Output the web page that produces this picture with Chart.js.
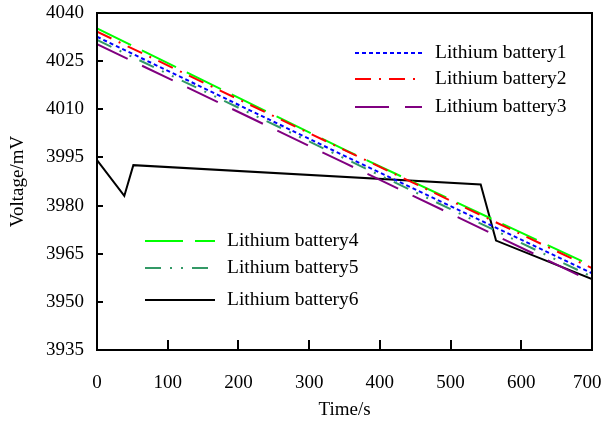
<!DOCTYPE html>
<html>
<head>
<meta charset="utf-8">
<script src="https://cdn.jsdelivr.net/npm/chart.js@4.4.0/dist/chart.umd.min.js"></script>
<style>
    body { margin: 0; background: #fff; }
    canvas { display: block; }
</style>
</head>
<body>
<canvas id="chart" width="604" height="424"></canvas>
<script>
// Time (s) of the points
const timeLinear = [0, 350, 700];
const battery1 = [4032.6, 3995.5, 3958.9];
const battery2 = [4034.2, 3997.3, 3960.5];
const battery3 = [4030.3, 3993.3, 3956.3];
const battery4 = [4035.2, 3997.4, 3961.2];
const battery5 = [4031.6, 3994.7, 3957.8];

const time6 = [0, 38.6, 51.4, 542.6, 564.3, 700];
const battery6 = [3994.2, 3983.0, 3992.6, 3986.6, 3969.1, 3957.1];

const xTicks = [0, 100, 200, 300, 400, 500, 600, 700];
const yTicks = [3935, 3950, 3965, 3980, 3995, 4010, 4025, 4040];

const FONT = "'Liberation Serif', 'Times New Roman', serif";

function points(xs, ys) {
    return xs.map((x, i) => ({ x: x, y: ys[i] }));
}

const datasets = [
    { label: 'Lithium battery1', data: points(timeLinear, battery1), borderColor: '#0000ff', borderDash: [4, 3] },
    { label: 'Lithium battery2', data: points(timeLinear, battery2), borderColor: '#ff0000', borderDash: [16, 8, 2, 8] },
    { label: 'Lithium battery3', data: points(timeLinear, battery3), borderColor: '#800080', borderDash: [34, 16] },
    { label: 'Lithium battery4', data: points(timeLinear, battery4), borderColor: '#00ff00', borderDash: [38, 12] },
    { label: 'Lithium battery5', data: points(timeLinear, battery5), borderColor: '#339966', borderDash: [16, 9, 2, 9, 2, 9] },
    { label: 'Lithium battery6', data: points(time6, battery6), borderColor: '#000000', borderDash: [] }
];
datasets.forEach(d => {
    d.borderWidth = 2;
    d.pointRadius = 0;
    d.tension = 0;
    d.fill = false;
});

// two legend boxes drawn inside the plot
const legendBoxes = [
    { items: [0, 1, 2], lineX: 355, lineLen: 67, textX: 435, rows: [53, 79, 107] },
    { items: [3, 4, 5], lineX: 145, lineLen: 70, textX: 227, rows: [241, 268, 300] }
];

const framePlugin = {
    id: 'frame',
    afterDatasetsDraw(chart) {
        const { ctx, chartArea: a, scales } = chart;
        ctx.save();
        ctx.strokeStyle = '#000';
        ctx.lineWidth = 2;
        ctx.setLineDash([]);
        ctx.strokeRect(a.left, a.top, a.right - a.left, a.bottom - a.top);
        // inward tick marks
        ctx.beginPath();
        xTicks.slice(1, -1).forEach(v => {
            const px = Math.round(scales.x.getPixelForValue(v));
            ctx.moveTo(px, a.bottom);
            ctx.lineTo(px, a.bottom - 10);
        });
        yTicks.slice(1, -1).forEach(v => {
            const py = Math.round(scales.y.getPixelForValue(v));
            ctx.moveTo(a.left, py);
            ctx.lineTo(a.left + 6, py);
        });
        ctx.stroke();

        // legends
        ctx.font = '19.5px ' + FONT;
        ctx.fillStyle = '#000';
        ctx.textBaseline = 'middle';
        ctx.textAlign = 'left';
        legendBoxes.forEach(box => {
            box.items.forEach((idx, r) => {
                const ds = chart.data.datasets[idx];
                const y = box.rows[r];
                ctx.beginPath();
                ctx.strokeStyle = ds.borderColor;
                ctx.lineWidth = ds.borderWidth;
                ctx.setLineDash(ds.borderDash);
                ctx.moveTo(box.lineX, y);
                ctx.lineTo(box.lineX + box.lineLen, y);
                ctx.stroke();
                ctx.setLineDash([]);
                ctx.fillText(ds.label, box.textX, y);
            });
        });
        ctx.restore();
    }
};

const config = {
    type: 'line',
    data: { datasets: datasets },
    options: {
        responsive: false,
        animation: false,
        layout: {
            autoPadding: false,
            padding: { left: 0, top: 13, right: 12, bottom: 0 }
        },
        plugins: {
            legend: { display: false },
            tooltip: { enabled: false }
        },
        scales: {
            x: {
                type: 'linear',
                min: 0,
                max: 700,
                afterFit: s => {
                    s.height = 74;
                    s.paddingLeft = 0;
                    s.paddingRight = 0;
                },
                afterBuildTicks: s => { s.ticks = xTicks.map(v => ({ value: v })); },
                grid: { display: false, drawTicks: false },
                border: { display: false },
                ticks: {
                    padding: 22,
                    color: '#000',
                    font: { family: FONT, size: 19 },
                    // last label sits a little left so it stays inside the canvas
                    callback: v => v === 700 ? String(v) + '  ' : String(v)
                },
                title: {
                    display: true,
                    text: 'Time/s',
                    color: '#000',
                    font: { family: FONT, size: 19 },
                    padding: { top: 0, bottom: 3 }
                }
            },
            y: {
                type: 'linear',
                min: 3935,
                max: 4040,
                afterFit: s => {
                    s.width = 97;
                    s.paddingTop = 0;
                    s.paddingBottom = 0;
                },
                afterBuildTicks: s => { s.ticks = yTicks.map(v => ({ value: v })); },
                grid: { display: false, drawTicks: false },
                border: { display: false },
                ticks: {
                    padding: 13,
                    color: '#000',
                    font: { family: FONT, size: 19 },
                    callback: v => String(v)
                },
                title: {
                    display: true,
                    text: 'Voltage/mV',
                    color: '#000',
                    font: { family: FONT, size: 19 },
                    padding: { top: 7, bottom: 0 }
                }
            }
        }
    },
    plugins: [framePlugin]
};

const chart = new Chart(document.getElementById('chart').getContext('2d'), config);
</script>
</body>
</html>
